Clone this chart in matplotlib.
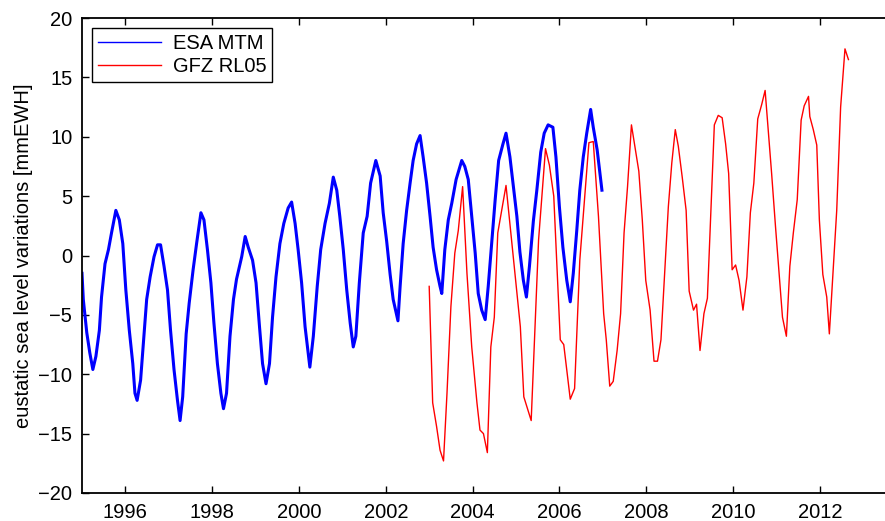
import matplotlib
matplotlib.use("Agg")
import matplotlib.pyplot as plt

plt.rcParams['font.family'] = ['Liberation Sans', 'DejaVu Sans']

# ESA MTM (decimal years / mm EWH)
esa_t = [1995.00, 1995.03, 1995.11, 1995.18, 1995.25, 1995.32, 1995.40, 1995.45, 1995.53, 1995.61,
         1995.68, 1995.78, 1995.86, 1995.94, 1996.01, 1996.09, 1996.17, 1996.22, 1996.27, 1996.35,
         1996.43, 1996.49, 1996.57, 1996.66, 1996.74, 1996.81, 1996.89, 1996.97, 1997.04, 1997.12,
         1997.20, 1997.26, 1997.32, 1997.40, 1997.47, 1997.56, 1997.64, 1997.74, 1997.81, 1997.89,
         1997.97, 1998.04, 1998.12, 1998.20, 1998.26, 1998.33, 1998.41, 1998.49, 1998.56, 1998.68,
         1998.76, 1998.83, 1998.93, 1999.01, 1999.09, 1999.16, 1999.24, 1999.32, 1999.39, 1999.47,
         1999.56, 1999.65, 1999.75, 1999.83, 1999.91, 1999.98, 2000.06, 2000.14, 2000.21, 2000.25,
         2000.33, 2000.42, 2000.50, 2000.60, 2000.70, 2000.79, 2000.87, 2000.94, 2001.02, 2001.10,
         2001.18, 2001.25, 2001.31, 2001.39, 2001.48, 2001.57, 2001.65, 2001.77, 2001.87, 2001.94,
         2002.02, 2002.10, 2002.17, 2002.28, 2002.33, 2002.40, 2002.48, 2002.56, 2002.63, 2002.71,
         2002.79, 2002.86, 2002.94, 2003.02, 2003.09, 2003.17, 2003.25, 2003.29, 2003.36, 2003.44,
         2003.52, 2003.62, 2003.75, 2003.82, 2003.90, 2003.98, 2004.06, 2004.13, 2004.21, 2004.29,
         2004.36, 2004.44, 2004.52, 2004.60, 2004.70, 2004.77, 2004.86, 2004.94, 2005.02, 2005.09,
         2005.17, 2005.24, 2005.31, 2005.40, 2005.48, 2005.57, 2005.65, 2005.74, 2005.85, 2005.92,
         2006.00, 2006.08, 2006.17, 2006.25, 2006.32, 2006.40, 2006.47, 2006.55, 2006.63, 2006.72,
         2006.78, 2006.87, 2006.98]
esa_v = [-1.5, -3.7, -6.5, -8.2, -9.6, -8.5, -6.3, -3.5, -0.7, 0.5,
         1.9, 3.8, 3.0, 1.0, -2.9, -6.3, -9.1, -11.6, -12.2, -10.5,
         -6.6, -3.7, -1.8, -0.1, 0.9, 0.9, -0.9, -2.9, -6.3, -9.6,
         -12.2, -13.9, -11.9, -6.6, -4.0, -1.2, 1.0, 3.6, 3.0, 0.5,
         -2.3, -5.7, -9.1, -11.6, -12.9, -11.6, -6.8, -3.7, -2.0, -0.1,
         1.6, 0.7, -0.4, -2.3, -6.0, -9.1, -10.8, -9.1, -5.2, -1.8,
         1.0, 2.7, 4.0, 4.5, 2.7, 0.5, -2.3, -6.0, -8.2, -9.4,
         -6.8, -2.6, 0.5, 2.7, 4.4, 6.6, 5.5, 3.3, 0.5, -2.9,
         -5.7, -7.7, -6.8, -2.3, 1.9, 3.3, 6.1, 8.0, 6.7, 3.6,
         1.2, -1.6, -3.7, -5.5, -2.6, 1.0, 3.8, 6.1, 8.0, 9.4,
         10.1, 8.3, 6.1, 3.3, 0.7, -1.2, -2.6, -3.2, 0.5, 3.0,
         4.4, 6.4, 8.0, 7.5, 6.4, 3.3, 0.2, -3.2, -4.6, -5.4,
         -2.6, 1.0, 4.7, 8.0, 9.4, 10.3, 8.3, 5.8, 3.3, 0.3,
         -2.1, -3.5, -0.9, 2.9, 5.5, 8.7, 10.3, 11.0, 10.8, 8.3,
         4.1, 0.7, -2.1, -3.9, -1.5, 2.1, 5.5, 8.3, 10.3, 12.3,
         10.8, 8.9, 5.5]

# GFZ RL05 monthly
gfz_t = [2003.00, 2003.08, 2003.17, 2003.25, 2003.33, 2003.41, 2003.50, 2003.59, 2003.67, 2003.77,
         2003.87, 2003.98, 2004.10, 2004.17, 2004.25, 2004.34, 2004.42, 2004.50, 2004.58, 2004.77,
         2004.92, 2005.10, 2005.18, 2005.35, 2005.52, 2005.68, 2005.77, 2005.87, 2006.02, 2006.10,
         2006.25, 2006.35, 2006.47, 2006.68, 2006.78, 2006.90, 2007.02, 2007.08, 2007.16, 2007.24,
         2007.33, 2007.41, 2007.49, 2007.57, 2007.66, 2007.83, 2007.91, 2007.99, 2008.09, 2008.18,
         2008.26, 2008.34, 2008.51, 2008.59, 2008.67, 2008.74, 2008.83, 2008.92, 2008.99, 2009.09,
         2009.16, 2009.24, 2009.33, 2009.41, 2009.57, 2009.66, 2009.75, 2009.83, 2009.90, 2009.98,
         2010.06, 2010.14, 2010.23, 2010.32, 2010.40, 2010.48, 2010.57, 2010.66, 2010.74, 2010.89,
         2010.98, 2011.14, 2011.23, 2011.31, 2011.39, 2011.48, 2011.57, 2011.64, 2011.74, 2011.77,
         2011.85, 2011.93, 2011.99, 2012.07, 2012.16, 2012.22, 2012.39, 2012.48, 2012.58, 2012.66]
gfz_v = [-2.6, -12.4, -14.4, -16.4, -17.3, -11.6, -4.3, 0.2, 2.1, 5.8,
         -1.5, -7.7, -12.4, -14.7, -15.0, -16.6, -7.7, -5.2, 1.9, 5.9,
         0.5, -6.0, -11.9, -13.9, 1.3, 9.0, 7.6, 5.0, -7.1, -7.5,
         -12.1, -11.2, -0.4, 9.5, 9.6, 3.3, -4.9, -7.1, -11.0, -10.6,
         -8.0, -4.9, 1.9, 5.8, 11.0, 7.1, 3.0, -2.1, -4.6, -8.9,
         -8.9, -7.1, 4.1, 7.8, 10.6, 9.2, 6.6, 3.8, -3.0, -4.6,
         -4.1, -8.0, -4.9, -3.6, 11.0, 11.8, 11.6, 9.4, 6.9, -1.2,
         -0.8, -2.1, -4.6, -1.8, 3.6, 6.1, 11.5, 12.7, 13.9, 6.9,
         2.4, -5.2, -6.8, -0.9, 1.9, 4.7, 11.4, 12.6, 13.4, 11.7,
         10.6, 9.3, 3.0, -1.6, -3.5, -6.6, 3.8, 12.5, 17.4, 16.5]

xticks = [1996, 1998, 2000, 2002, 2004, 2006, 2008, 2010, 2012]
yticks = [-20, -15, -10, -5, 0, 5, 10, 15, 20]

fig = plt.figure(figsize=(8.85, 5.21), dpi=100)
# right edge runs past the image, like in the original export
ax = fig.add_axes([82/885, 28/521, 812/885, 475/521])

ax.plot(esa_t, esa_v, color='#0000ff', lw=2.2, label='ESA MTM')
ax.plot(gfz_t, gfz_v, color='#ff0000', lw=1.0, label='GFZ RL05')

ax.set_xlim(1995, 1995 + 812/43.4)
ax.set_ylim(-20, 20)
ax.set_xticks(xticks)
ax.set_yticks(yticks)
ax.tick_params(direction='in', length=5, width=1, labelsize=14.5, top=True, right=False, pad=7)
for s in ax.spines.values():
    s.set_linewidth(1.3)
ax.set_ylabel('eustatic sea level variations [mmEWH]', fontsize=14.5)
ax.yaxis.set_label_coords(-49/806, 0.5)

leg = ax.legend(loc='upper left', fontsize=14.5, handlelength=3.1, borderaxespad=0.5,
                fancybox=False, framealpha=1, edgecolor='black', borderpad=0.3,
                labelspacing=0.2, handletextpad=0.6)
leg.get_frame().set_linewidth(1.0)
for ln in leg.get_lines():
    ln.set_linewidth(1.0)

fig.savefig('out.png', dpi=100)
